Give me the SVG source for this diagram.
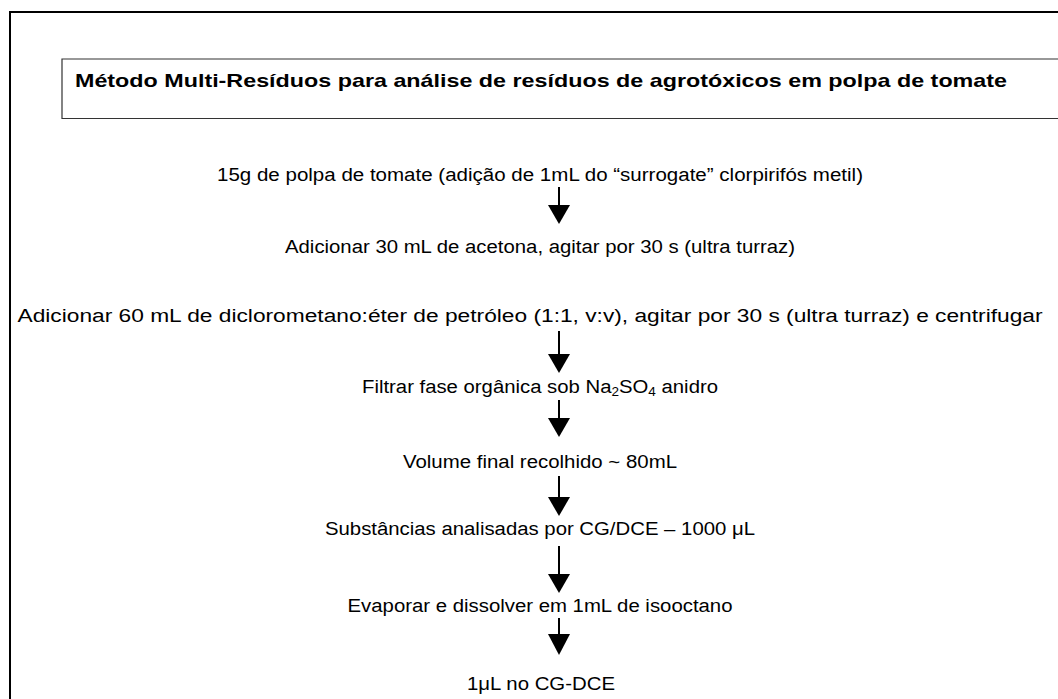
<svg xmlns="http://www.w3.org/2000/svg" width="1058" height="699" viewBox="0 0 1058 699">
<style>
.t{font-family:"Liberation Sans",Arial,sans-serif;font-size:18px;fill:#000;text-anchor:middle}
.h{font-family:"Liberation Sans",Arial,sans-serif;font-size:19px;font-weight:bold;fill:#000}
.ln{stroke:#000;stroke-width:2;fill:none}
.hd{fill:#000}
</style>
<rect width="1058" height="699" fill="#fff"/>
<g id="frame">
<path d="M10,699 V12 H1058" stroke="#000" stroke-width="2" fill="none"/>
</g>
<g id="title">
<path d="M1058,59 H62 V118.5 H1058" stroke="#333" stroke-width="1.2" fill="none"/>
<text class="h" x="75" y="87" textLength="932" lengthAdjust="spacingAndGlyphs">Método Multi-Resíduos para análise de resíduos de agrotóxicos em polpa de tomate</text>
</g>
<g id="step1"><text class="t" x="540" y="181" textLength="646" lengthAdjust="spacingAndGlyphs">15g de polpa de tomate (adição de 1mL do “surrogate” clorpirifós metil)</text></g>
<g id="step2"><text class="t" x="540" y="253" textLength="510" lengthAdjust="spacingAndGlyphs">Adicionar 30 mL de acetona, agitar por 30 s (ultra turraz)</text></g>
<g id="step3"><text class="t" x="530" y="322" textLength="1025" lengthAdjust="spacingAndGlyphs">Adicionar 60 mL de diclorometano:éter de petróleo (1:1, v:v), agitar por 30 s (ultra turraz) e centrifugar</text></g>
<g id="step4"><text class="t" x="540" y="393" textLength="356" lengthAdjust="spacingAndGlyphs">Filtrar fase orgânica sob Na<tspan font-size="12" dy="3">2</tspan><tspan dy="-3">SO</tspan><tspan font-size="12" dy="3">4</tspan><tspan dy="-3"> anidro</tspan></text></g>
<g id="step5"><text class="t" x="540" y="468" textLength="274" lengthAdjust="spacingAndGlyphs">Volume final recolhido ~ 80mL</text></g>
<g id="step6"><text class="t" x="540" y="535" textLength="430" lengthAdjust="spacingAndGlyphs">Substâncias analisadas por CG/DCE – 1000 μL</text></g>
<g id="step7"><text class="t" x="540" y="612" textLength="385" lengthAdjust="spacingAndGlyphs">Evaporar e dissolver em 1mL de isooctano</text></g>
<g id="step8"><text class="t" x="541" y="690" textLength="148" lengthAdjust="spacingAndGlyphs">1μL no CG-DCE</text></g>
<g id="connectors">
<path class="ln" d="M559,187 V206"/><path class="hd" d="M548,205 H570 L559,224 Z"/>
<path class="ln" d="M559,331 V355"/><path class="hd" d="M548,354 H570 L559,373 Z"/>
<path class="ln" d="M559,400 V419"/><path class="hd" d="M548,418 H570 L559,437 Z"/>
<path class="ln" d="M559,476 V498"/><path class="hd" d="M548,497 H570 L559,516 Z"/>
<path class="ln" d="M559,546 V575"/><path class="hd" d="M548,574 H570 L559,593 Z"/>
<path class="ln" d="M559,618 V635"/><path class="hd" d="M548,634 H570 L559,655 Z"/>
</g>
</svg>
